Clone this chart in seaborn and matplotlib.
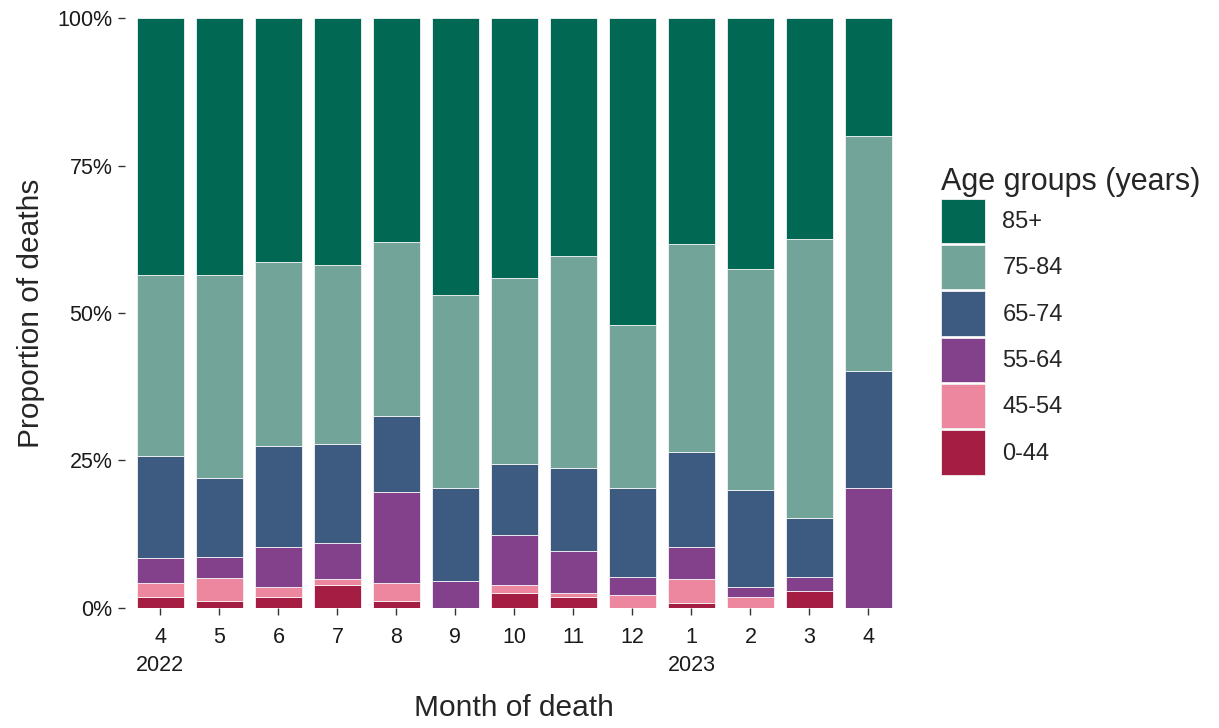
import pandas as pd
import seaborn as sns
import matplotlib.pyplot as plt
from matplotlib.ticker import PercentFormatter

# Month labels (x axis)
months = ["4\n2022", "5", "6", "7", "8", "9", "10", "11", "12", "1\n2023", "2", "3", "4"]

# Share of deaths (%) by age group
age_groups = ["85+", "75-84", "65-74", "55-64", "45-54", "0-44"]
pct_85plus = [43.5, 43.5, 41.4, 41.8, 38.0, 46.9, 44.1, 40.4, 52.0, 38.3, 42.5, 37.4, 19.9]
pct_75_84 = [30.7, 34.4, 31.1, 30.4, 29.4, 32.7, 31.5, 35.8, 27.6, 35.2, 37.5, 47.4, 40.0]
pct_65_74 = [17.4, 13.4, 17.1, 16.8, 13.0, 15.9, 12.0, 14.1, 15.2, 16.1, 16.5, 10.0, 19.7]
pct_55_64 = [4.1, 3.7, 6.9, 6.1, 15.3, 4.5, 8.5, 7.2, 3.0, 5.5, 1.7, 2.4, 20.4]
pct_45_54 = [2.5, 3.8, 1.7, 1.0, 3.1, 0.0, 1.3, 0.7, 2.2, 4.0, 1.8, 0.0, 0.0]
pct_0_44 = [1.8, 1.2, 1.8, 3.9, 1.2, 0.0, 2.6, 1.8, 0.0, 0.9, 0.0, 2.8, 0.0]

colors = ["#006853", "#72A49A", "#3D5A80", "#83418B", "#EC879F", "#A51D42"]

# Long table for seaborn
series = [pct_85plus, pct_75_84, pct_65_74, pct_55_64, pct_45_54, pct_0_44]
rows = []
for grp, vals in zip(age_groups, series):
    for i, v in enumerate(vals):
        rows.append({"month": i, "age": grp, "share": v / 100})
df = pd.DataFrame(rows)

sns.set_style("white")
plt.rcParams["font.family"] = ["Liberation Sans", "DejaVu Sans"]

fig = plt.figure(figsize=(12.19, 7.28), dpi=100)
ax = fig.add_axes([0.1025, 0.165, 0.639, 0.81])

# stacked bars: first hue level ends up on top
sns.histplot(data=df, x="month", weights="share", hue="age", hue_order=age_groups,
             palette=colors, multiple="stack", discrete=True, shrink=0.8,
             alpha=1, edgecolor="#f4f4f4", linewidth=0.6, ax=ax)

ax.set_xlim(-0.6, len(months) - 0.4)
ax.set_ylim(0, 1)
ax.set_xticks(range(len(months)))
ax.set_xticklabels(months, linespacing=1.4)
ax.set_yticks([0, 0.25, 0.5, 0.75, 1.0])
ax.yaxis.set_major_formatter(PercentFormatter(1.0, decimals=0))
ax.tick_params(axis="both", labelsize=15.5, colors="#333333", length=5, width=1,
               left=True, bottom=True, pad=4)
ax.tick_params(axis="x", pad=9)
ax.tick_params(axis="both", labelcolor="#1a1a1a")
for s in ax.spines.values():
    s.set_visible(False)

ax.set_xlabel("Month of death", fontsize=21.5, labelpad=13)
ax.set_ylabel("Proportion of deaths", fontsize=21.5, labelpad=9)

sns.move_legend(ax, loc="center left", bbox_to_anchor=(1.02, 0.487),
                title="Age groups (years)", frameon=False, fontsize=17,
                title_fontsize=22, handlelength=1.86, handleheight=2.52,
                labelspacing=0.08, handletextpad=0.75)
leg = ax.get_legend()
leg._legend_box.align = "left"
for h in leg.legend_handles:
    h.set_edgecolor("#f0f0f0")

fig.savefig("out.png", dpi=100)
